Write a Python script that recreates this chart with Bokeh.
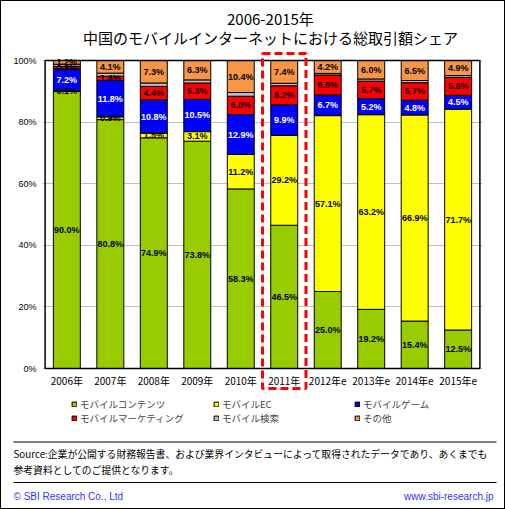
from bokeh.plotting import figure
from bokeh.layouts import column
from bokeh.models import (ColumnDataSource, FactorRange, Range1d, FixedTicker,
                          PrintfTickFormatter, Legend, LegendItem, BoxAnnotation, Label)
from bokeh.embed import file_html
from bokeh.resources import INLINE
from bokeh.core.properties import value

# ---------------- data ----------------
years = ["2006年", "2007年", "2008年", "2009年", "2010年", "2011年",
         "2012年e", "2013年e", "2014年e", "2015年e"]
series_names = ["モバイルコンテンツ", "モバイルEC", "モバイルゲーム",
                "モバイルマーケティング", "モバイル検索", "その他"]
contents = [90.0, 80.8, 74.9, 73.8, 58.3, 46.5, 25.0, 19.2, 15.4, 12.5]
ec = [0.1, 0.9, 1.5, 3.1, 11.2, 29.2, 57.1, 63.2, 66.9, 71.7]
game = [7.2, 11.8, 10.8, 10.5, 12.9, 9.9, 6.7, 5.2, 4.8, 4.5]
marketing = [0.8, 1.4, 4.4, 5.3, 6.0, 6.2, 6.5, 5.7, 5.7, 5.8]
search = [0.7, 1.0, 1.1, 1.0, 1.2, 0.8, 0.5, 0.7, 0.7, 0.6]
other = [1.2, 4.1, 7.3, 6.3, 10.4, 7.4, 4.2, 6.0, 6.5, 4.9]
y_ticks = [0, 20, 40, 60, 80, 100]
highlight_year = "2011年"

title_line1 = "2006-2015年"
title_line2 = "中国のモバイルインターネットにおける総取引額シェア"
source_line1 = "Source:企業が公開する財務報告書、および業界インタビューによって取得されたデータであり、あくまでも"
source_line2 = "参考資料としてのご提供となります。"
footer_left = "© SBI Research Co., Ltd"
footer_right = "www.sbi-research.jp"

colors = ["#99CC00", "#FFFF00", "#0000FF", "#FF0000", "#C0C0C0", "#F79646"]
label_colors = ["black", "black", "white", "black", None, "black"]

series = [contents, ec, game, marketing, search, other]
data = {"year": years}
for name, vals in zip(series_names, series):
    data[name] = vals
src = ColumnDataSource(data)

# ---------------- layout constants (page pixels) ----------------
FONT_JP = "Noto Sans CJK JP"
W = 503                    # figure width (column adds 1px border each side)
H_MAIN, H_FOOT = 427, 80
ORG_X, ORG_Y = 1, 1        # page position of the main figure's top-left
ML, MR = 41, 22
FW = W - ML - MR
NCAT = len(years)
PAD = 0.06                 # absolute factor padding (total)
UNIT = FW / (NCAT + PAD)   # pixels per category
FRAME_L = ORG_X + ML
AREA_L = FRAME_L + UNIT * PAD / 2
Y0_PAGE, Y100_PAGE = 368, 60
PX_PER = (Y0_PAGE - Y100_PAGE) / 100.0
FRAME_TOP, FRAME_BOT = ORG_Y, ORG_Y + H_MAIN


def dx(px):
    return (px - AREA_L) / UNIT


def dy(py):
    return (Y0_PAGE - py) / PX_PER


p = figure(x_range=FactorRange(*years, range_padding=PAD, range_padding_units="absolute"),
           y_range=Range1d(dy(FRAME_BOT), dy(FRAME_TOP)),
           width=W, height=H_MAIN, title=None,
           min_border_left=ML, min_border_right=MR, min_border_top=0, min_border_bottom=0,
           toolbar_location=None, output_backend="svg")

rs = p.vbar_stack(stackers=series_names, x="year", width=0.62, source=src,
                  fill_color=colors, line_color="black", line_width=1)

# segment labels
lx, ly, lt, lc = [], [], [], []
for i, yr in enumerate(years):
    base = 0.0
    for s, vals in enumerate(series):
        v = vals[i]
        if label_colors[s] is not None:
            lx.append(yr)
            ly.append(base + v / 2.0)
            lt.append(f"{v:.1f}%")
            lc.append(label_colors[s])
        base += v
lsrc = ColumnDataSource(dict(x=lx, y=ly, text=lt, color=lc))
p.text(x="x", y="y", text="text", text_color="color", source=lsrc,
       text_align="center", text_baseline="middle",
       text_font=value("Liberation Sans"), text_font_size="9px",
       text_font_style="bold")

# plot-area outline
p.add_layout(BoxAnnotation(left=0, right=NCAT, bottom=0, top=100,
                           fill_color=None, fill_alpha=0, line_color="black",
                           line_alpha=1, line_width=1.5))

# axes / grid
p.outline_line_color = None
p.xgrid.grid_line_color = None
p.ygrid.ticker = FixedTicker(ticks=y_ticks)
p.ygrid.grid_line_color = "#C0C0C0"
p.yaxis.ticker = FixedTicker(ticks=y_ticks)
p.yaxis.formatter = PrintfTickFormatter(format="%d%%")
for ax in (p.xaxis, p.yaxis):
    ax.axis_line_color = None
    ax.major_tick_line_color = None
    ax.minor_tick_line_color = None
    ax.major_tick_out = 0
    ax.major_tick_in = 0
    ax.major_label_text_color = "black"
p.yaxis.major_label_text_font = "Liberation Sans"
p.yaxis.major_label_text_font_size = "9px"
p.yaxis.major_label_standoff = 6
p.xaxis.major_label_text_font = FONT_JP
p.xaxis.major_label_text_font_size = "10px"
p.xaxis.major_label_standoff = -56

# titles
for txt, py in ((title_line1, 17.5), (title_line2, 37)):
    p.add_layout(Label(x=dx(270), y=dy(py), text=txt, text_font=FONT_JP,
                       text_font_size="15px", text_align="center",
                       text_baseline="middle", text_color="black"))

# highlight box around 2011
hi = years.index(highlight_year)
p.add_layout(BoxAnnotation(left=hi, right=hi + 1, top=dy(53), bottom=dy(388),
                           fill_color=None, fill_alpha=0, line_color="#FF0000",
                           line_alpha=1, line_width=3, line_dash="8 4"))

# legends (three columns)
cols = [(0, 3), (1, 4), (2, 5)]
col_x = [71, 213, 354]
for (a, b), px in zip(cols, col_x):
    lg = Legend(items=[LegendItem(label=value(series_names[a]), renderers=[rs[a]]),
                       LegendItem(label=value(series_names[b]), renderers=[rs[b]])],
                location=(px - FRAME_L, 3), orientation="vertical",
                glyph_width=6, glyph_height=6, label_height=9, label_width=10,
                label_standoff=3, spacing=-1, padding=0, margin=0,
                background_fill_alpha=0, border_line_alpha=0,
                label_text_font=FONT_JP, label_text_font_size="9.5px",
                label_text_line_height=1.0,
                label_text_baseline="middle")
    p.add_layout(lg)

# ---------------- footer figure ----------------
f = figure(x_range=Range1d(0, W), y_range=Range1d(H_FOOT, 0), width=W, height=H_FOOT,
           x_axis_type=None, y_axis_type=None,
           min_border=0, toolbar_location=None, output_backend="svg", title=None)
f.grid.visible = False
f.outline_line_color = None
for fig in (p, f):
    try:
        fig.frame_align = False
    except AttributeError:
        pass
FOOT_Y = ORG_Y + H_MAIN
rule_y = [441.5 - FOOT_Y, 482 - FOOT_Y]
f.segment(x0=[13 - ORG_X] * 2, x1=[496 - ORG_X] * 2, y0=rule_y, y1=rule_y,
          line_color="black", line_width=1)
for txt, py in ((source_line1, 453.5), (source_line2, 469.5)):
    f.add_layout(Label(x=13 - ORG_X, y=py - FOOT_Y, text=txt, text_font=FONT_JP,
                       text_font_size="9.8px", text_baseline="middle",
                       text_align="left", text_color="black"))
f.add_layout(Label(x=13 - ORG_X, y=495.5 - FOOT_Y, text=footer_left, text_font="Liberation Sans",
                   text_font_size="10px", text_baseline="middle", text_align="left",
                   text_color="#3333FF"))
f.add_layout(Label(x=493 - ORG_X, y=495.5 - FOOT_Y, text=footer_right, text_font="Liberation Sans",
                   text_font_size="10px", text_baseline="middle", text_align="right",
                   text_color="#3333FF"))

layout = column(p, f, spacing=0, styles={"border": "1px solid black"})

open("out.html", "w").write(file_html(layout, INLINE))
